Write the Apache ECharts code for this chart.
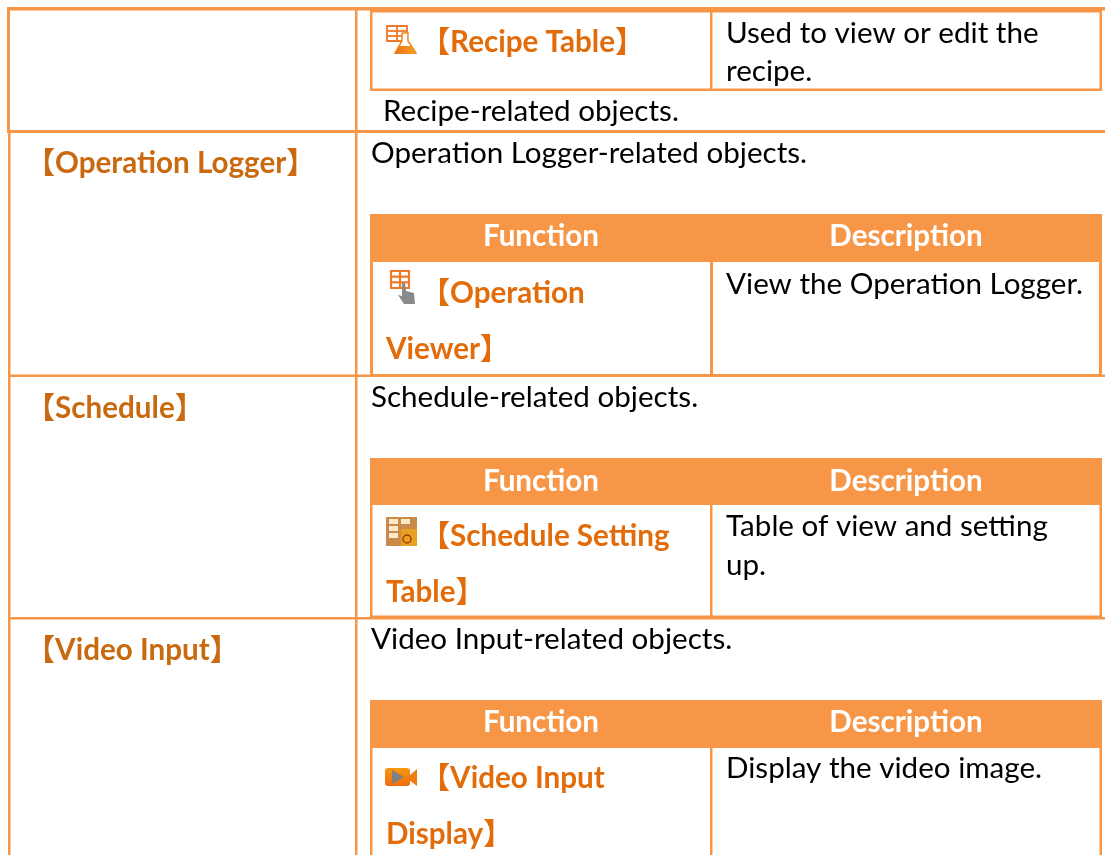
<!DOCTYPE html>
<html>
<head>
<meta charset="utf-8">
<style>
html, body { margin: 0; padding: 0; background: #fff; }
#main { width: 1105px; height: 855px; }
</style>
<script src="https://cdn.jsdelivr.net/npm/echarts@6/dist/echarts.min.js"></script>
</head>
<body>
<div id="main"></div>
<script>
// table content
const groupNames = ['【Operation Logger】', '【Schedule】', '【Video Input】']
const groupNotes = ['Recipe-related objects.', 'Operation Logger-related objects.', 'Schedule-related objects.', 'Video Input-related objects.']
const headers = ['Function', 'Description']
const functionLines = [
    ['【Recipe Table】'],
    ['【Operation', 'Viewer】'],
    ['【Schedule Setting', 'Table】'],
    ['【Video Input', 'Display】']
]
const descriptionLines = [
    ['Used to view or edit the', 'recipe.'],
    ['View the Operation Logger.'],
    ['Table of view and setting', 'up.'],
    ['Display the video image.']
]

const ORANGE = '#f79646'
const TITLE_DARK = '#c96a10'
const TITLE = '#e36c0a'
const FONT = 'Lato, "Noto Sans CJK SC", sans-serif'
const SIZE = 29.6

const W = 1105
const H = 855
const els = []

function hline(x1, x2, y, t) {
    els.push({ type: 'rect', shape: { x: x1, y: y, width: x2 - x1, height: t }, style: { fill: ORANGE }, silent: true })
}
function vline(x, y1, y2, t) {
    els.push({ type: 'rect', shape: { x: x, y: y1, width: t, height: y2 - y1 }, style: { fill: ORANGE }, silent: true })
}
function label(text, x, y, color, bold, align) {
    els.push({
        type: 'text',
        x: x,
        y: y,
        style: {
            text: text,
            fill: color,
            font: (bold ? 'bold ' : '') + SIZE + 'px ' + FONT,
            align: align || 'left',
            verticalAlign: 'middle'
        }
    })
}

// outer grid
hline(7, W, 7, 3.5)
hline(7, W, 130, 3)
hline(8, W, 374.5, 2.5)
hline(8, W, 617, 2.5)
vline(7, 7, 133, 3)
vline(8, 133, H, 2.5)
vline(355, 7, H, 2.5)

// inner table frames
const tables = [
    { top: 10, bottom: 91, right: 1102, header: null, t: 2.5, closed: true, headerY: 0 },
    { top: 214, bottom: 377, right: 1102, header: 262, t: 3, closed: true, headerY: 236 },
    { top: 458, bottom: 618, right: 1102, header: 505, t: 2.5, closed: true, headerY: 481 },
    { top: 700, bottom: H, right: 1102, header: 748, t: 2.5, closed: false, headerY: 722 }
]
tables.forEach(function (t) {
    vline(370, t.top, t.bottom, t.t)
    vline(710, t.header || t.top, t.bottom, t.t)
    vline(t.right - t.t, t.top, t.bottom, t.t)
    if (t.closed) hline(370, t.right, t.bottom - t.t, t.t)
    if (t.header) {
        els.push({ type: 'rect', shape: { x: 370, y: t.top, width: t.right - 370, height: t.header - t.top }, style: { fill: ORANGE }, silent: true })
        label(headers[0], 541, t.headerY, '#fff', true, 'center')
        label(headers[1], 906, t.headerY, '#fff', true, 'center')
    } else {
        hline(370, t.right, t.top, 2.5)
    }
})

// left column
const groupY = [163, 408, 650]
groupNames.forEach(function (s, i) { label(s, 25.5, groupY[i], TITLE_DARK, true) })

// notes above each inner table
const noteX = [383, 371, 371, 371]
const noteY = [111, 153, 397, 639]
groupNotes.forEach(function (s, i) { label(s, noteX[i], noteY[i], '#000', false) })

// function cells
const fnY = [[42], [293, 349], [536, 592], [778, 834]]
functionLines.forEach(function (lines, i) {
    lines.forEach(function (s, j) {
        label(s, j === 0 ? 420.5 : 386, fnY[i][j], TITLE, true)
    })
})

// description cells
const descY = [[33, 71], [284], [526, 565], [768]]
descriptionLines.forEach(function (lines, i) {
    lines.forEach(function (s, j) { label(s, 726, descY[i][j], '#000', false) })
})

// small icons
const warm = { type: 'linear', x: 0, y: 0, x2: 1, y2: 0, colorStops: [{ offset: 0, color: '#f0701a' }, { offset: 1, color: '#f7a01e' }] }
function tableIcon(x, y, w, h, lw) {
    els.push({ type: 'rect', shape: { x: x, y: y, width: w, height: h }, style: { fill: '#fff', stroke: '#ef7a2a', lineWidth: lw } })
    for (let i = 1; i < 3; i++) {
        els.push({ type: 'line', shape: { x1: x, y1: y + h * i / 3, x2: x + w, y2: y + h * i / 3 }, style: { stroke: '#ef7a2a', lineWidth: lw } })
    }
    els.push({ type: 'line', shape: { x1: x + w / 2, y1: y, x2: x + w / 2, y2: y + h }, style: { stroke: '#ef7a2a', lineWidth: lw } })
}
// recipe flask
tableIcon(387, 26, 20, 15, 1.8)
els.push({ type: 'polygon', shape: { points: [[402, 33], [408, 33], [408, 41], [416, 53], [395, 53], [402, 41]] }, style: { fill: '#fff', stroke: '#f08a1e', lineWidth: 1.5 } })
els.push({ type: 'polygon', shape: { points: [[399, 46], [411, 46], [416, 54], [395, 54]] }, style: { fill: warm } })
// operation viewer hand
tableIcon(391, 271, 18, 17, 2.2)
els.push({ type: 'polygon', shape: { points: [[402, 283], [405, 283], [406, 291], [414, 293], [415, 304], [404, 304], [398, 295], [402, 296]] }, style: { fill: '#8a8a8a' } })
// schedule table
els.push({ type: 'rect', shape: { x: 386, y: 517, width: 31, height: 29 }, style: { fill: '#c98a4a' } })
els.push({ type: 'rect', shape: { x: 389, y: 519, width: 9, height: 5 }, style: { fill: '#fbe9c8' } })
els.push({ type: 'rect', shape: { x: 401, y: 519, width: 9, height: 5 }, style: { fill: '#fbe9c8' } })
els.push({ type: 'rect', shape: { x: 389, y: 526, width: 9, height: 5 }, style: { fill: '#fbe9c8' } })
els.push({ type: 'rect', shape: { x: 389, y: 533, width: 9, height: 5 }, style: { fill: '#fbe9c8' } })
els.push({ type: 'rect', shape: { x: 401, y: 529, width: 16, height: 17 }, style: { fill: '#e8a020' } })
els.push({ type: 'circle', shape: { cx: 407, cy: 539, r: 4 }, style: { fill: 'none', stroke: '#a83a10', lineWidth: 1.5 } })
// video camera
els.push({ type: 'rect', shape: { x: 385, y: 768, width: 25, height: 18, r: 3 }, style: { fill: { type: 'linear', x: 0, y: 0, x2: 0, y2: 1, colorStops: [{ offset: 0, color: '#f59a10' }, { offset: 1, color: '#ee6a10' }] } } })
els.push({ type: 'polygon', shape: { points: [[409, 776], [417, 769], [417, 786], [409, 780]] }, style: { fill: '#ee7a10' } })
els.push({ type: 'polygon', shape: { points: [[392, 770], [404, 777], [392, 784]] }, style: { fill: '#808080' } })

const chart = echarts.init(document.getElementById('main'))
chart.setOption({
    backgroundColor: '#fff',
    animation: false,
    graphic: { elements: els }
})
</script>
</body>
</html>
